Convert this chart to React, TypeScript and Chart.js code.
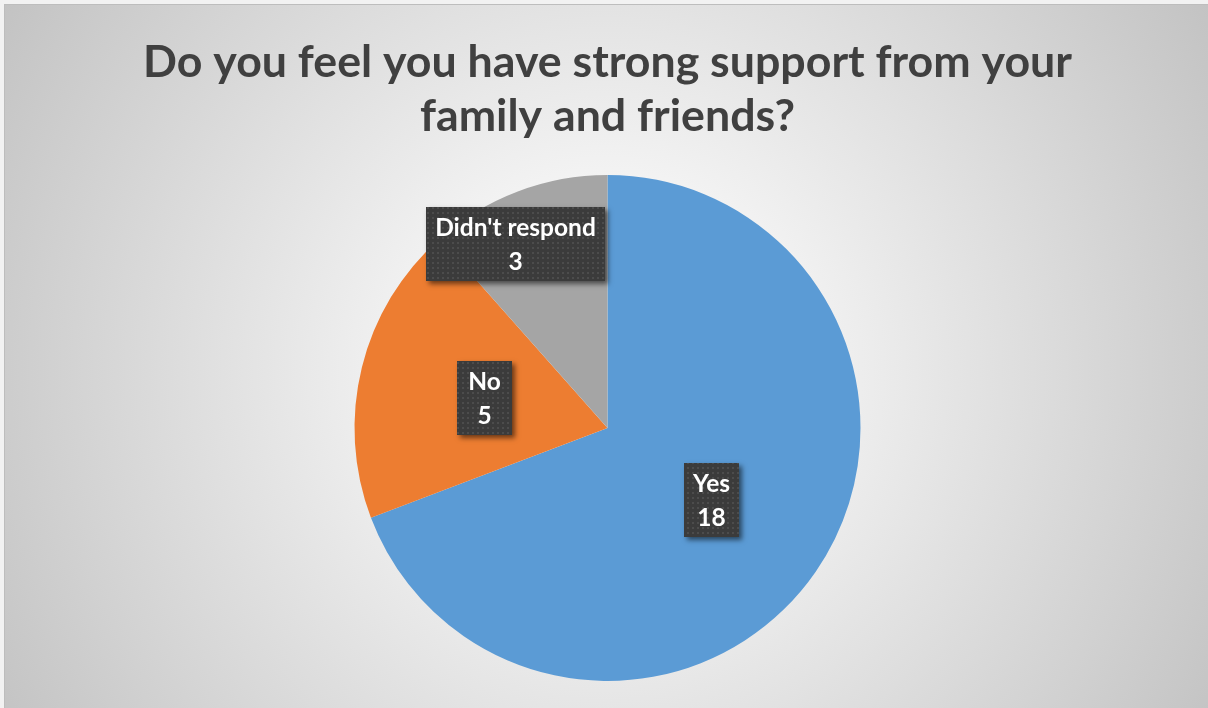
import React, { useEffect, useRef } from "react";
import { Chart, registerables } from "chart.js";

Chart.register(...registerables);

const categories = ["Yes", "No", "Didn't respond"];
const responses = [18, 5, 3];
const sliceColors = ["#5B9BD5", "#ED7D31", "#A5A5A5"];
const titleLines = ["Do you feel you have strong support from your", "family and friends?"];

// label placement (fraction of radius, angle shift in degrees from slice middle)
const labelRadius = [0.5, 0.5, 0.814];
const labelAngleShift = [0, 0, -5.9];

const LABEL_FONT = "bold 24.5px Lato";

function makePattern(ctx: CanvasRenderingContext2D) {
  const c = document.createElement("canvas");
  c.width = 5;
  c.height = 5;
  const p = c.getContext("2d")!;
  p.fillStyle = "#3b3b3b";
  p.fillRect(0, 0, 5, 5);
  p.fillStyle = "#4c4c4c";
  p.fillRect(2, 2, 2, 2);
  return ctx.createPattern(c, "repeat");
}

const labelPlugin = {
  id: "boxLabels",
  afterDatasetsDraw(chart: any) {
    const ctx: CanvasRenderingContext2D = chart.ctx;
    const meta = chart.getDatasetMeta(0);
    const pattern = makePattern(ctx);
    ctx.save();
    ctx.font = LABEL_FONT;
    meta.data.forEach((arc: any, i: number) => {
      const { x, y, startAngle, endAngle, outerRadius } = arc.getProps(
        ["x", "y", "startAngle", "endAngle", "outerRadius"],
        true
      );
      const mid = (startAngle + endAngle) / 2 + (labelAngleShift[i] * Math.PI) / 180;
      const r = outerRadius * labelRadius[i];
      const cx = x + Math.cos(mid) * r;
      const cy = y + Math.sin(mid) * r;
      const l1 = String(chart.data.labels[i]);
      const l2 = String(chart.data.datasets[0].data[i]);
      const tw = Math.max(ctx.measureText(l1).width, ctx.measureText(l2).width);
      const bw = Math.round(Math.max(tw + 18, 55));
      const bh = 74;
      const bx = Math.round(cx - bw / 2);
      const by = Math.round(cy - bh / 2);
      ctx.save();
      ctx.shadowColor = "rgba(0,0,0,0.55)";
      ctx.shadowBlur = 5;
      ctx.shadowOffsetX = 3;
      ctx.shadowOffsetY = 3;
      ctx.fillStyle = "#3b3b3b";
      ctx.fillRect(bx, by, bw, bh);
      ctx.restore();
      ctx.fillStyle = pattern as any;
      ctx.fillRect(bx, by, bw, bh);
      ctx.fillStyle = "#ffffff";
      ctx.textAlign = "center";
      ctx.textBaseline = "middle";
      ctx.fillText(l1, bx + bw / 2, by + 21);
      ctx.fillText(l2, bx + bw / 2, by + 55);
    });
    ctx.restore();
  },
};

export default function App() {
  const ref = useRef<HTMLCanvasElement>(null);
  useEffect(() => {
    const chart = new Chart(ref.current!, {
      type: "pie",
      data: {
        labels: categories,
        datasets: [
          {
            data: responses,
            backgroundColor: sliceColors,
            borderWidth: 0,
          },
        ],
      },
      options: {
        responsive: false,
        animation: false,
        layout: { padding: { left: 7, right: 0, top: 0, bottom: 27 } },
        plugins: {
          legend: { display: false },
          tooltip: { enabled: false },
          title: {
            display: true,
            text: titleLines,
            color: "#404040",
            font: { family: "Lato", size: 44.7, weight: "bold", lineHeight: "54px" },
            padding: { top: 36, bottom: 31 },
          },
        },
      },
      plugins: [labelPlugin],
    });
    return () => chart.destroy();
  }, []);
  return (
    <div
      style={{
        position: "fixed",
        left: 0,
        top: 0,
        width: 1208,
        height: 708,
        background: "#f2f2f2",
        overflow: "hidden",
      }}
    >
      <div
        style={{
          position: "absolute",
          left: 4,
          top: 4,
          width: 1204,
          height: 704,
          boxSizing: "border-box",
          borderTop: "1px solid #bdbdbd",
          borderLeft: "1px solid #bdbdbd",
          background:
            "radial-gradient(circle farthest-corner at 50% 52%, #ffffff 0%, #fdfdfd 12%, #c3c3c3 100%)",
        }}
      />
      <canvas
        ref={ref}
        width={1208}
        height={708}
        style={{ position: "absolute", left: 0, top: 0, width: 1208, height: 708 }}
      />
    </div>
  );
}
